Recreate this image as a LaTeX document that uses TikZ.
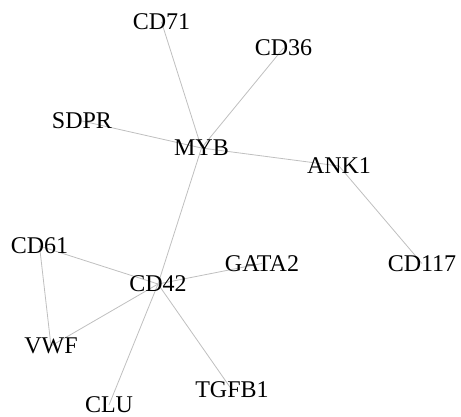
\documentclass[tikz,border=0pt]{standalone}
\usepackage{fontspec}
\setmainfont{Liberation Serif}
\usetikzlibrary{backgrounds}

\begin{document}
\begin{tikzpicture}[
        x=1pt, y=-1pt,
        gene/.style={inner sep=0pt, font=\fontsize{24}{28}\selectfont, text=black},
        link/.style={draw=black!25, line width=0.8pt}
    ]
    \useasboundingbox (0,0) rectangle (461,417);
    \node[gene] (cd71) at (161.5,22) {CD71};
    \node[gene] (cd36) at (283.5,48) {CD36};
    \node[gene] (sdpr) at (82,121) {SDPR};
    \node[gene] (myb) at (201.5,148) {MYB};
    \node[gene] (ank1) at (339,166) {ANK1};
    \node[gene] (cd61) at (39.5,246) {CD61};
    \node[gene] (gata2) at (262,263.5) {GATA2};
    \node[gene] (cd117) at (422,263.5) {CD117};
    \node[gene] (cd42) at (158,284) {CD42};
    \node[gene] (vwf) at (51,346) {VWF};
    \node[gene] (tgfb1) at (232,390) {TGFB1};
    \node[gene] (clu) at (109,405) {CLU};

    \begin{pgfonlayer}{background}
    \draw[link] (cd71.center) -- (myb.center);
    \draw[link] (cd36.center) -- (myb.center);
    \draw[link] (sdpr.center) -- (myb.center);
    \draw[link] (myb.center) -- (ank1.center);
    \draw[link] (ank1.center) -- (cd117.center);
    \draw[link] (myb.center) -- (cd42.center);
    \draw[link] (cd61.center) -- (cd42.center);
    \draw[link] (cd61.center) -- (vwf.center);
    \draw[link] (vwf.center) -- (cd42.center);
    \draw[link] (gata2.center) -- (cd42.center);
    \draw[link] (tgfb1.center) -- (cd42.center);
    \draw[link] (clu.center) -- (cd42.center);
    \end{pgfonlayer}
\end{tikzpicture}
\end{document}
